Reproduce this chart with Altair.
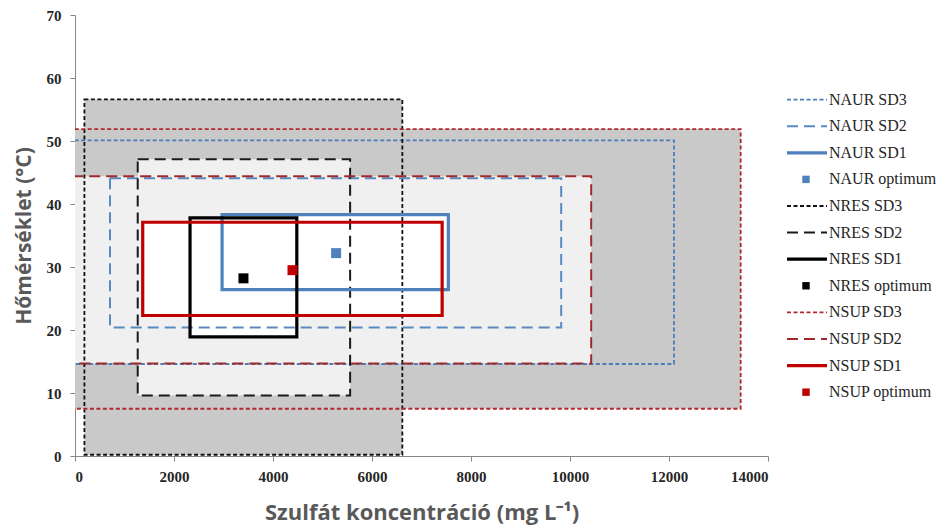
import altair as alt
import pandas as pd

# ---------------- data ----------------
box_names = ["NAUR SD3", "NAUR SD2", "NAUR SD1",
             "NRES SD3", "NRES SD2", "NRES SD1",
             "NSUP SD3", "NSUP SD2", "NSUP SD1"]
box_levels = ["SD3", "SD2", "SD1"] * 3
box_x_min = [-400, 707, 2971, 190, 1267, 2324, -400, -400, 1368]
box_x_max = [12100, 9822, 7542, 6613, 5558, 4481, 13448, 10428, 7417]
box_y_min = [14.6, 20.4, 26.4, 0.2, 9.6, 18.9, 7.5, 14.7, 22.3]
box_y_max = [50.1, 44.1, 38.3, 56.6, 47.1, 37.8, 51.9, 44.4, 37.1]

opt_names = ["NAUR optimum", "NRES optimum", "NSUP optimum"]
opt_x = [5275, 3403, 4394]
opt_y = [32.2, 28.2, 29.5]

legend_labels = ["NAUR SD3", "NAUR SD2", "NAUR SD1", "NAUR optimum",
                 "NRES SD3", "NRES SD2", "NRES SD1", "NRES optimum",
                 "NSUP SD3", "NSUP SD2", "NSUP SD1", "NSUP optimum"]
legend_kinds = ["SD3", "SD2", "SD1", "opt"] * 3
legend_colors = ["#4A7DBA", "#5A89C2", "#4F81BD", "#4F81BD",
                 "#111111", "#1A1A1A", "#000000", "#000000",
                 "#B0282E", "#9E2A2D", "#C00000", "#C00000"]

x_ticks = [0, 2000, 4000, 6000, 8000, 10000, 12000, 14000]
y_ticks = [0, 10, 20, 30, 40, 50, 60, 70]

# ---------------- styles ----------------
fills = {"SD3": "#C9C9C9", "SD2": "#F0F0F0", "SD1": "#FFFFFF"}
widths = {"SD3": 1.8, "SD2": 2.0, "SD1": 3.2}
dashes = {"SD3": [4, 2.5], "SD2": [11, 6]}

boxes = pd.DataFrame({"name": box_names, "level": box_levels,
                      "x1": box_x_min, "x2": box_x_max,
                      "y1": box_y_min, "y2": box_y_max})
opts = pd.DataFrame({"name": opt_names, "ox": opt_x, "oy": opt_y})
leg = pd.DataFrame({"label": legend_labels, "kind": legend_kinds,
                    "idx": list(range(len(legend_labels)))})

color_scale = alt.Scale(domain=legend_labels, range=legend_colors)
x_scale = alt.Scale(domain=[0, 14000], nice=False, zero=False)
y_scale = alt.Scale(domain=[0, 70], nice=False)

axis_common = dict(grid=False, domainColor="#868686", tickColor="#868686",
                   tickSize=5, format="d", labelFont="Liberation Serif",
                   labelFontWeight="bold", labelFontSize=15, labelColor="#262626",
                   titleFont="Open Sans", titleFontWeight="bold",
                   titleColor="#595959")
x_axis = alt.Axis(values=x_ticks, title="Szulfát koncentráció (mg L⁻¹)",
                  labelPadding=8, titlePadding=18, titleFontSize=22, **axis_common)
y_axis = alt.Axis(values=y_ticks, title="Hőmérséklet (°C)",
                  labelPadding=9, titlePadding=12, titleFontSize=21, **axis_common)

layers = []
for lvl in ["SD3", "SD2", "SD1"]:
    layers.append(
        alt.Chart(boxes).transform_filter(alt.datum.level == lvl)
        .mark_rect(fill=fills[lvl], strokeWidth=0, clip=True)
        .encode(x=alt.X("x1:Q", scale=x_scale, axis=x_axis), x2="x2:Q",
                y=alt.Y("y1:Q", scale=y_scale, axis=y_axis), y2="y2:Q")
    )
for lvl in ["SD3", "SD2", "SD1"]:
    mk = dict(fillOpacity=0, strokeWidth=widths[lvl], clip=True)
    if lvl in dashes:
        mk["strokeDash"] = dashes[lvl]
    layers.append(
        alt.Chart(boxes).transform_filter(alt.datum.level == lvl)
        .mark_rect(**mk)
        .encode(x=alt.X("x1:Q", scale=x_scale, axis=x_axis), x2="x2:Q",
                y=alt.Y("y1:Q", scale=y_scale, axis=y_axis), y2="y2:Q",
                stroke=alt.Stroke("name:N", scale=color_scale, legend=None))
    )
layers.append(
    alt.Chart(opts).mark_square(size=100, filled=True, opacity=1)
    .encode(x=alt.X("ox:Q", scale=x_scale, axis=x_axis),
            y=alt.Y("oy:Q", scale=y_scale, axis=y_axis),
            fill=alt.Fill("name:N", scale=color_scale, legend=None))
)
main = alt.layer(*layers).properties(width=693, height=441)

# ---------------- legend panel ----------------
ly = alt.Scale(domain=[-3.18, 13.4], reverse=True)
leg_layers = []
for lvl in ["SD3", "SD2", "SD1"]:
    mk = dict(strokeWidth=widths[lvl])
    if lvl in dashes:
        mk["strokeDash"] = dashes[lvl]
    leg_layers.append(
        alt.Chart(leg).transform_filter(alt.datum.kind == lvl)
        .mark_rule(**mk)
        .encode(x=alt.value(0), x2=alt.value(40),
                y=alt.Y("idx:Q", scale=ly, axis=None),
                stroke=alt.Stroke("label:N", scale=color_scale, legend=None))
    )
leg_layers.append(
    alt.Chart(leg).transform_filter(alt.datum.kind == "opt")
    .mark_square(size=55, filled=True, opacity=1)
    .encode(x=alt.value(19), y=alt.Y("idx:Q", scale=ly, axis=None),
            fill=alt.Fill("label:N", scale=color_scale, legend=None))
)
leg_layers.append(
    alt.Chart(leg).mark_text(align="left", baseline="middle", font="Liberation Serif",
                             fontSize=16, color="#262626")
    .encode(x=alt.value(42), y=alt.Y("idx:Q", scale=ly, axis=None), text="label:N")
)
legend = alt.layer(*leg_layers).properties(width=150, height=441)

chart = (alt.hconcat(main, legend, spacing=19, bounds="flush")
         .configure_view(stroke=None)
         .configure_axis(labelFont="Liberation Serif", labelFontWeight="bold",
                         labelFontSize=15, format="d")
         .properties(padding={"left": 13, "top": 8, "right": 5, "bottom": 5},
                     background="white"))

chart.save("out.html", embed_options={"renderer": "svg", "actions": False})
